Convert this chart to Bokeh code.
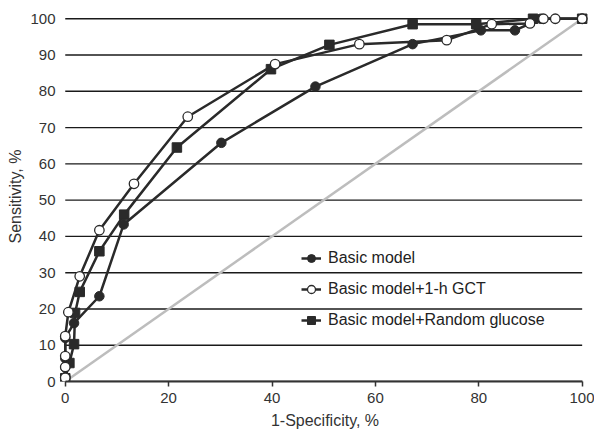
from bokeh.plotting import figure
from bokeh.models import Range1d, FixedTicker, Legend, LegendItem
from bokeh.embed import file_html
from bokeh.resources import INLINE

# ---- data ----
x_ticks = [0, 20, 40, 60, 80, 100]
y_ticks = [0, 10, 20, 30, 40, 50, 60, 70, 80, 90, 100]

basic_x = [0, 0, 0, 0, 1.7, 6.6, 11.3, 30.2, 48.4, 67.2, 80.4, 87.0, 92.0, 100]
basic_y = [1.2, 3.9, 6.4, 12.0, 16.1, 23.5, 43.3, 65.8, 81.3, 93.0, 96.8, 96.8, 100, 100]

gct_x = [0, 0, 0, 0, 0.6, 2.8, 6.6, 13.3, 23.7, 40.6, 56.9, 73.8, 82.5, 89.9, 92.5, 94.8, 100]
gct_y = [1.0, 4.0, 7.0, 12.5, 19.1, 29.0, 41.7, 54.5, 73.0, 87.5, 93.0, 94.1, 98.5, 98.7, 100, 100, 100]

rg_x = [0, 0.8, 1.7, 1.9, 2.8, 6.6, 11.4, 21.6, 39.8, 51.1, 67.2, 79.5, 90.5, 100]
rg_y = [0.9, 5.1, 10.3, 18.9, 24.7, 35.9, 46.0, 64.5, 86.1, 92.8, 98.5, 98.5, 100, 100]

diag = [0, 100]

FONT = "Liberation Sans"
DARK = "#2a2a2a"

p = figure(width=594, height=433, output_backend="svg", toolbar_location=None,
           x_range=Range1d(-1.5, 102), y_range=Range1d(0, 102),
           min_border_left=57, min_border_right=2, min_border_top=11, min_border_bottom=52)
p.outline_line_color = None
p.background_fill_color = "white"
p.xgrid.visible = False
p.ygrid.visible = False

# gridlines from tick values
p.segment(x0=0, x1=100, y0=y_ticks, y1=y_ticks, line_color="#1a1a1a", line_width=1.4)

# diagonal reference
p.line(diag, diag, line_color="#bdbdbd", line_width=2.5)

# curves
r1l = p.line(basic_x, basic_y, line_color=DARK, line_width=2.5)
r2l = p.line(gct_x, gct_y, line_color=DARK, line_width=2.5)
r3l = p.line(rg_x, rg_y, line_color=DARK, line_width=2.5)
r1m = p.scatter(basic_x, basic_y, marker="circle", size=9.5, fill_color=DARK, line_color=DARK)
r3m = p.scatter(rg_x, rg_y, marker="square", size=9.5, fill_color=DARK, line_color=DARK)
r2m = p.scatter(gct_x, gct_y, marker="circle", size=9.5, fill_color="white", line_color=DARK, line_width=1.3)

legend = Legend(items=[
    LegendItem(label="Basic model", renderers=[r1l, r1m]),
    LegendItem(label="Basic model+1-h GCT", renderers=[r2l, r2m]),
    LegendItem(label="Basic model+Random glucose", renderers=[r3l, r3m]),
], location=(244, 51))
legend.padding = 0
legend.margin = 0
legend.spacing = 11
legend.glyph_width = 20
legend.glyph_height = 20
legend.label_height = 20
legend.label_standoff = 7
legend.label_text_font = FONT
legend.label_text_font_size = "16px"
legend.label_text_color = "#222222"
legend.background_fill_alpha = 0
legend.border_line_color = None
p.add_layout(legend, "center")

# x axis
xa = p.xaxis[0]
xa.ticker = FixedTicker(ticks=x_ticks)
xa.bounds = (0, 100)
xa.axis_line_color = "#333333"
xa.axis_line_width = 2
xa.major_tick_line_color = "#333333"
xa.major_tick_line_width = 1.5
xa.major_tick_in = 0
xa.major_tick_out = 5
xa.minor_tick_line_color = None
xa.major_label_standoff = 6
xa.major_label_text_font = FONT
xa.major_label_text_font_size = "15px"
xa.major_label_text_color = "#333333"
xa.axis_label = "1-Specificity, %"
xa.axis_label_text_font = FONT
xa.axis_label_text_font_style = "normal"
xa.axis_label_text_font_size = "16px"
xa.axis_label_text_color = "#333333"
xa.axis_label_standoff = 6

# y axis
ya = p.yaxis[0]
ya.ticker = FixedTicker(ticks=y_ticks)
ya.axis_line_color = None
ya.major_tick_line_color = None
ya.minor_tick_line_color = None
ya.major_tick_in = 0
ya.major_tick_out = 0
ya.major_label_standoff = 2
ya.major_label_text_font = FONT
ya.major_label_text_font_size = "15px"
ya.major_label_text_color = "#333333"
ya.axis_label = "Sensitivity, %"
ya.axis_label_text_font = FONT
ya.axis_label_text_font_style = "normal"
ya.axis_label_text_font_size = "16px"
ya.axis_label_text_color = "#333333"
ya.axis_label_standoff = 3

open("out.html", "w").write(file_html(p, INLINE))
